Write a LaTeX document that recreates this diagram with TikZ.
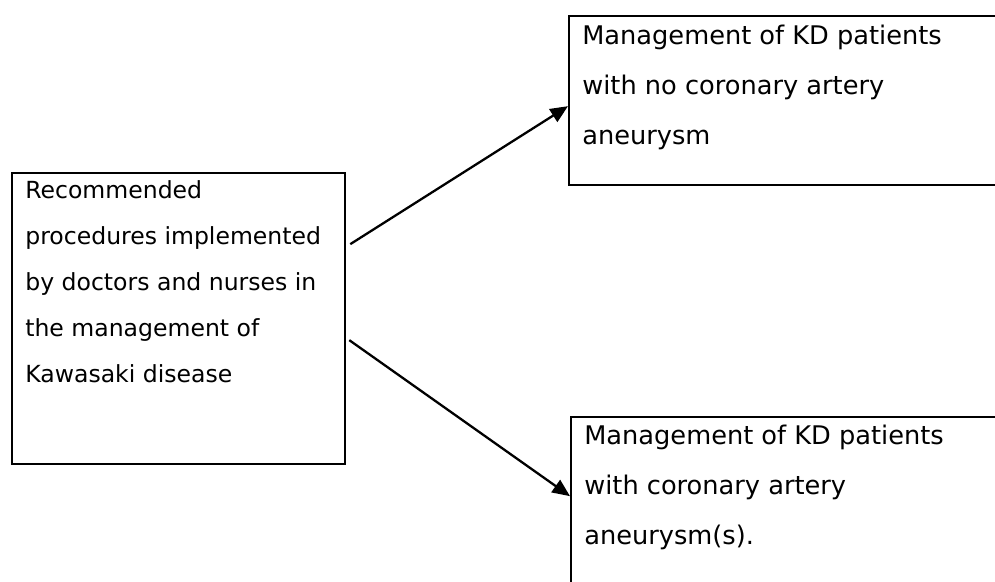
\documentclass[tikz,border=0pt]{standalone}
\usepackage{fontspec}
\setmainfont{DejaVu Sans}
\usetikzlibrary{arrows.meta}

\tikzset{
  box/.style={draw, line width=1.3pt, anchor=north west, inner xsep=7.5pt},
  arr/.style={line width=1.3pt, -{Triangle[length=10pt,width=8.5pt]}}
}

\begin{document}
\begin{tikzpicture}
		\useasboundingbox (0,0) rectangle (19.9,11.62);

		\node[box, inner ysep=4pt] (lbox) at ( 0.22, 8.18)
			{\parbox[t][157.6pt][t]{174.5pt}{\fontsize{13.4pt}{26.2pt}\selectfont
			Recommended\\ procedures implemented\\ by doctors and nurses in\\ the management of\\ Kawasaki disease}};

		\node[box, inner ysep=4.8pt] (tbox) at (11.36,11.32)
			{\parbox[t][86.6pt][t]{245pt}{\fontsize{14.6pt}{28.5pt}\selectfont
			Management of KD patients\\ with no coronary artery\\ aneurysm}};

		\node[box, inner ysep=4.5pt] (bbox) at (11.40, 3.30)
			{\parbox[t][96.3pt][t]{245pt}{\fontsize{14.6pt}{28.5pt}\selectfont
			Management of KD patients\\ with coronary artery\\ aneurysm(s).}};

		\draw[arr] ([shift={(0.08, 1.49)}]lbox.east) to ([yshift=-0.11cm]tbox.west);
		\draw[arr] ([shift={(0.06,-0.43)}]lbox.east) to ([yshift= 0.27cm]bbox.west);

	\end{tikzpicture}
\end{document}
